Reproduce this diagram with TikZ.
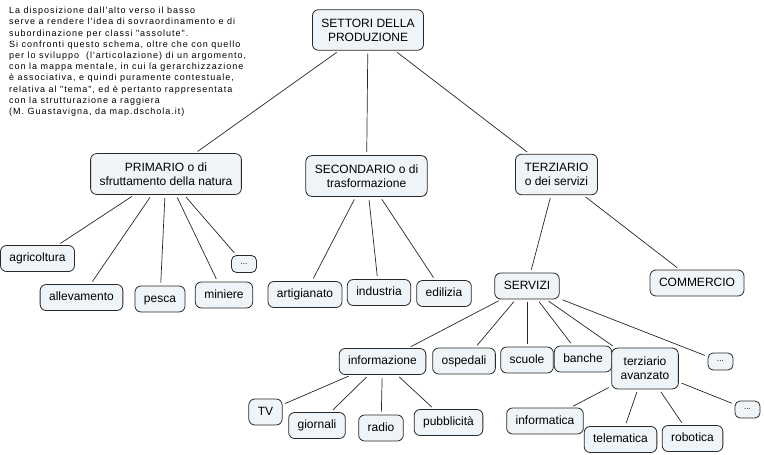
\documentclass[tikz,border=0pt]{standalone}
\usepackage{fontspec}
\newfontfamily\nodefont{Liberation Sans}
\newfontfamily\notefont[LetterSpace=11]{Liberation Sans}
\definecolor{boxfill}{RGB}{238,244,247}
\definecolor{boxline}{RGB}{40,40,40}
\begin{document}
\begin{tikzpicture}[x=1pt,y=-1pt,
 box/.style={draw=boxline, fill=boxfill, rounded corners=6pt, line width=0.8pt, font=\nodefont\fontsize{12}{14}\selectfont, inner xsep=9pt, inner ysep=7pt, text height=9pt, text depth=3pt},
 mbox/.style={draw=boxline, fill=boxfill, rounded corners=6pt, line width=0.8pt, font=\nodefont\fontsize{12}{14}\selectfont, inner xsep=9pt, inner ysep=9pt, align=center},
 dotbox/.style={draw=boxline, fill=boxfill, rounded corners=5pt, line width=0.8pt, font=\nodefont\fontsize{8}{9}\selectfont, minimum width=25pt, minimum height=17pt, inner sep=0pt},
 link/.style={draw=black!85, line width=0.7pt, shorten >=3pt, shorten <=3pt}]
\useasboundingbox (0,0) rectangle (764,455);

\node[anchor=north west, inner sep=0pt, align=left, font=\notefont\fontsize{9}{11.2}\selectfont] (note) at (9,7) {La disposizione dall'alto verso il basso\\
serve a rendere l'idea di sovraordinamento e di\\
subordinazione per classi "assolute".\\
Si confronti questo schema, oltre che con quello\\
per lo sviluppo\ \ (l'articolazione) di un argomento,\\
con la mappa mentale, in cui la gerarchizzazione\\
è associativa, e quindi puramente contestuale,\\
relativa al "tema", ed è pertanto rappresentata\\
con la strutturazione a raggiera\\
(M. Guastavigna, da map.dschola.it)};

\node[mbox] (root) at (368,30) {SETTORI DELLA\\PRODUZIONE};
\node[mbox] (prim) at (166,174) {PRIMARIO o di\\sfruttamento della natura};
\node[mbox] (sec) at (366.5,176) {SECONDARIO o di\\trasformazione};
\node[mbox] (ter) at (556.5,174.5) {TERZIARIO\\o dei servizi};

\node[box] (agri) at (37.5,258.5) {agricoltura};
\node[box] (alle) at (81.5,297.5) {allevamento};
\node[box] (pesca) at (160,299) {pesca};
\node[box] (mini) at (224,295) {miniere};
\node[dotbox] (d1) at (244,264) {...};

\node[box] (arti) at (305,294.5) {artigianato};
\node[box] (indu) at (379,292.5) {industria};
\node[box] (edil) at (444,293.5) {edilizia};

\node[box] (serv) at (527,286) {SERVIZI};
\node[box] (comm) at (697,283) {COMMERCIO};

\node[box] (info) at (382.5,361.5) {informazione};
\node[box] (osp) at (464,361) {ospedali};
\node[box] (scuo) at (527,360) {scuole};
\node[box] (banc) at (583,359) {banche};
\node[mbox] (tav) at (645,368.5) {terziario\\avanzato};
\node[dotbox] (d2) at (720.5,361.5) {...};

\node[box] (tv) at (265.5,412) {TV};
\node[box] (gior) at (317,425.5) {giornali};
\node[box] (radio) at (381,428) {radio};
\node[box] (pubb) at (448.5,422.5) {pubblicità};

\node[box] (infm) at (545,421) {informatica};
\node[box] (tele) at (620.5,439.5) {telematica};
\node[box] (robo) at (692.5,438.5) {robotica};
\node[dotbox] (d3) at (747.5,409.5) {...};

\draw[link] (root) -- (prim);
\draw[link] (root) -- (sec);
\draw[link] (root) -- (ter);
\draw[link] (prim) -- (agri);
\draw[link] (prim) -- (alle);
\draw[link] (prim) -- (pesca);
\draw[link] (prim) -- (mini);
\draw[link] (prim) -- (d1);
\draw[link] (sec) -- (arti);
\draw[link] (sec) -- (indu);
\draw[link] (sec) -- (edil);
\draw[link] (ter) -- (serv);
\draw[link] (ter) -- (comm);
\draw[link] (serv) -- (info);
\draw[link] (serv) -- (osp);
\draw[link] (serv) -- (scuo);
\draw[link] (serv) -- (banc);
\draw[link] (serv) -- (tav);
\draw[link] (serv) -- (d2);
\draw[link] (info) -- (tv);
\draw[link] (info) -- (gior);
\draw[link] (info) -- (radio);
\draw[link] (info) -- (pubb);
\draw[link] (tav) -- (infm);
\draw[link] (tav) -- (tele);
\draw[link] (tav) -- (robo);
\draw[link] (tav) -- (d3);
\end{tikzpicture}
\end{document}
